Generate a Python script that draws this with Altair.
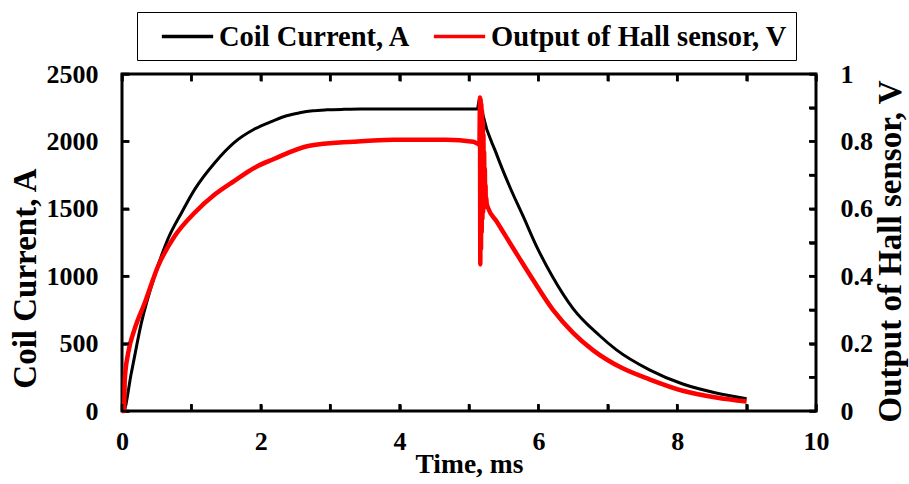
import altair as alt
import pandas as pd

# Coil current (A) against time (ms)
t_coil = [0, 0.02, 0.135, 0.28, 0.47, 0.66, 0.86, 1.05, 1.34, 1.62, 1.91, 2.18,
          2.37, 2.56, 2.75, 2.95, 3.2, 3.43, 4.0, 4.5, 5.0, 5.12, 5.14, 5.155,
          5.17, 5.20, 5.39, 5.59, 5.78, 5.97, 6.2, 6.5, 6.88, 7.12, 7.6, 8.08,
          8.56, 9.0]
i_coil = [0, 0, 284, 655, 1002, 1274, 1473, 1646, 1844, 1993, 2092, 2153,
          2190, 2212, 2227, 2234, 2238, 2240, 2240, 2240, 2240, 2240, 2290, 2322,
          2280, 2200, 1915, 1660, 1445, 1225, 1000, 760, 560, 455, 305, 200,
          134, 91]

# Hall sensor output (V) against time (ms), including the ringing at switch-off
t_hall = [0, 0.03, 0.04, 0.09, 0.18, 0.33, 0.52, 0.76, 1.05, 1.34, 1.62, 1.91,
          2.18, 2.70, 3.33, 3.91, 4.67, 5.06, 5.13, 5.150, 5.158, 5.163, 5.168,
          5.173, 5.178, 5.183, 5.188, 5.193, 5.198, 5.203, 5.208, 5.213, 5.218,
          5.223, 5.228, 5.233, 5.238, 5.243, 5.248, 5.255, 5.27, 5.40, 5.54,
          5.73, 5.92, 6.21, 6.50, 6.79, 7.2, 7.6, 8.08, 8.56, 9.0]
v_hall = [0, 0, 0.094, 0.173, 0.242, 0.322, 0.430, 0.519, 0.589, 0.643, 0.683,
          0.722, 0.747, 0.787, 0.799, 0.805, 0.805, 0.799, 0.792, 0.79, 0.93,
          0.435, 0.925, 0.48, 0.91, 0.53, 0.89, 0.57, 0.86, 0.59, 0.82, 0.60,
          0.77, 0.605, 0.72, 0.61, 0.67, 0.612, 0.635, 0.615, 0.605, 0.562,
          0.515, 0.452, 0.39, 0.30, 0.232, 0.18, 0.128, 0.094, 0.06, 0.04,
          0.028]

series_names = ["Coil Current, A", "Output of Hall sensor, V"]
series_colors = ["#000000", "#ff0000"]

x_tick_marks = [0, 1, 2, 3, 4, 5, 6, 7, 8, 9, 10]
x_tick_labels = [0, 2, 4, 6, 8, 10]
left_ticks = [0, 500, 1000, 1500, 2000, 2500]
right_tick_marks = [0, 0.1, 0.2, 0.3, 0.4, 0.5, 0.6, 0.7, 0.8, 0.9, 1.0]
right_tick_labels = [0, 0.2, 0.4, 0.6, 0.8, 1.0]

FONT = "Liberation Serif"
W, H = 694, 337
TICK = 7

coil = pd.DataFrame({"t": t_coil, "val": i_coil, "series": series_names[0]})
hall = pd.DataFrame({"t": t_hall, "val": v_hall, "series": series_names[1]})

x_scale = alt.Scale(domain=[0, 10], nice=False, zero=False)
left_scale = alt.Scale(domain=[0, 2500], nice=False)
right_scale = alt.Scale(domain=[0, 1], nice=False)

# Labelled axes (no ticks of their own)
x_axis = alt.Axis(values=x_tick_labels, format="d", title="Time, ms",
                  titleFontSize=27.5, titleY=61, titleBaseline="alphabetic",
                  labelPadding=17, labelFlush=False, ticks=False)
left_axis = alt.Axis(orient="left", values=left_ticks, format="d",
                     title="Coil Current, A", titleFontSize=33, titleAngle=270,
                     titleX=-97, titleY=204, titleBaseline="middle",
                     titleAlign="center", labelPadding=24, ticks=False)
right_axis = alt.Axis(orient="right", values=right_tick_labels, format="~g",
                      title="Output of Hall sensor, V", titleFontSize=33,
                      titleAngle=270, titleX=74, titleY=177,
                      titleBaseline="middle", titleAlign="center", labelPadding=24,
                      ticks=False)


# Tick-only axes pulled inside the frame so their ticks point inward
def inner_ticks(orient, values):
    return alt.Axis(orient=orient, values=values, offset=-TICK, ticks=True,
                    tickSize=TICK, tickWidth=2.5, tickColor="black", labels=False,
                    domain=False, grid=False, title=None)


legend = alt.Legend(
    title=None, orient="none", legendX=15, legendY=-62, direction="horizontal",
    columns=2, symbolType="M-1.9,0L1.9,0", symbolSize=729, symbolStrokeWidth=3.5,
    symbolOffset=26, labelFont=FONT, labelFontSize=28.5, labelFontWeight="bold",
    labelColor="black", labelLimit=1000, labelOffset=16, columnPadding=7, padding=9,
    strokeColor="black",
)
color = alt.Color("series:N",
                  scale=alt.Scale(domain=series_names, range=series_colors),
                  legend=legend)

coil_line = alt.Chart(coil).mark_line(strokeWidth=3, interpolate="monotone").encode(
    x=alt.X("t:Q", scale=x_scale, axis=x_axis),
    y=alt.Y("val:Q", scale=left_scale, axis=left_axis),
    color=color,
)
hall_line = alt.Chart(hall).mark_line(strokeWidth=4.5, interpolate="monotone").encode(
    x=alt.X("t:Q", scale=x_scale, axis=inner_ticks("bottom", x_tick_marks)),
    y=alt.Y("val:Q", scale=right_scale, axis=right_axis),
    color=color,
)
# Transparent copies of the series that carry the top/left/right tick axes
coil_ticks = alt.Chart(coil).mark_line(opacity=0).encode(
    x=alt.X("t:Q", scale=x_scale, axis=inner_ticks("top", x_tick_marks)),
    y=alt.Y("val:Q", scale=left_scale, axis=inner_ticks("left", left_ticks)),
)
hall_ticks = alt.Chart(hall).mark_line(opacity=0).encode(
    x=alt.X("t:Q", scale=x_scale, axis=None),
    y=alt.Y("val:Q", scale=right_scale, axis=inner_ticks("right", right_tick_marks)),
)

# The same inward ticks drawn as short rules on the frame edges
x_tick_df = pd.DataFrame({"v": x_tick_marks})
rule_style = dict(color="black", strokeWidth=2.5)
bottom_rules = alt.Chart(x_tick_df).mark_rule(**rule_style).encode(
    x=alt.X("v:Q", scale=x_scale, axis=None), y=alt.value(H), y2=alt.value(H - TICK))
top_rules = alt.Chart(x_tick_df).mark_rule(**rule_style).encode(
    x=alt.X("v:Q", scale=x_scale, axis=None), y=alt.value(0), y2=alt.value(TICK))
left_rules = alt.Chart(pd.DataFrame({"v": left_ticks})).mark_rule(**rule_style).encode(
    y=alt.Y("v:Q", scale=left_scale, axis=None), x=alt.value(0), x2=alt.value(TICK))
right_rules = alt.Chart(pd.DataFrame({"v": right_tick_marks})).mark_rule(
    **rule_style).encode(
    y=alt.Y("v:Q", scale=right_scale, axis=None), x=alt.value(W), x2=alt.value(W - TICK))

chart = alt.layer(
    coil_line, hall_line, coil_ticks, hall_ticks,
    bottom_rules, top_rules, left_rules, right_rules,
).resolve_scale(y="independent").resolve_axis(
    x="independent", y="independent"
).properties(
    width=W, height=H,
    padding={"left": 122, "top": 74, "right": 909 - 122 - W, "bottom": 484 - 74 - H},
    autosize=alt.AutoSizeParams(type="none"),
).configure_axis(
    labelFont=FONT, labelFontWeight="bold", labelFontSize=26, labelColor="black",
    titleFont=FONT, titleFontWeight="bold", titleColor="black",
    domain=False, grid=False,
).configure_view(stroke="black", strokeWidth=3)

chart.save("out.html", embed_options={"renderer": "svg", "actions": False})
